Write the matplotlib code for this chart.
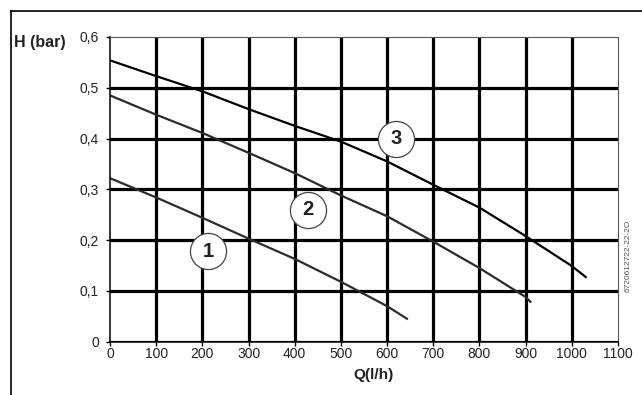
import numpy as np
import matplotlib.pyplot as plt
from matplotlib.lines import Line2D

plt.rcParams['font.family'] = ['Liberation Sans', 'DejaVu Sans']

# pump curves H(Q)
q1 = [0, 100, 200, 300, 400, 500, 600, 645]
h1 = [0.322, 0.284, 0.244, 0.203, 0.163, 0.118, 0.070, 0.044]
q2 = [0, 100, 200, 300, 400, 500, 600, 700, 800, 900, 912]
h2 = [0.485, 0.447, 0.411, 0.372, 0.332, 0.288, 0.247, 0.197, 0.145, 0.088, 0.077]
q3 = [0, 100, 200, 300, 400, 500, 600, 700, 800, 900, 1000, 1032]
h3 = [0.554, 0.523, 0.493, 0.458, 0.425, 0.394, 0.355, 0.309, 0.264, 0.208, 0.149, 0.126]

x_ticks = list(range(0, 1200, 100))
y_ticks = [0, 0.1, 0.2, 0.3, 0.4, 0.5, 0.6]
y_labels = ['0', '0,1', '0,2', '0,3', '0,4', '0,5', '0,6']
x_grid = list(range(100, 1100, 100))
y_grid = [0, 0.1, 0.2, 0.3, 0.4, 0.5]

# circled curve labels
lab_names = ['1', '2', '3']
lab_q = [213, 429, 620]
lab_h = [0.178, 0.260, 0.400]

W, H = 642, 395
fig = plt.figure(figsize=(W / 100, H / 100), dpi=100)
ax = fig.add_axes([110 / W, 1 - 341.7 / H, 508 / W, 304.7 / H])

for x in x_grid:
    ax.axvline(x, color='black', lw=2.3, zorder=1)
for y in y_grid:
    ax.axhline(y, color='black', lw=2.3, zorder=1)

ax.plot(q1, h1, color='#2b2b2b', lw=1.6, zorder=2, solid_capstyle='butt')
ax.plot(q2, h2, color='#2b2b2b', lw=1.6, zorder=2, solid_capstyle='butt')
ax.plot(q3, h3, color='black', lw=1.6, zorder=2, solid_capstyle='butt')

for name, q, h in zip(lab_names, lab_q, lab_h):
    ax.plot(q, h, 'o', ms=26, mfc='white', mec='#444444', mew=0.9, zorder=3)
    ax.text(q, h, name, ha='center', va='center', fontsize=14.5,
            fontweight='bold', color='#222222', zorder=4)

ax.set_xlim(0, 1100)
ax.set_ylim(0, 0.6)
ax.set_xticks(x_ticks)
ax.set_yticks(y_ticks)
ax.set_yticklabels(y_labels)
ax.tick_params(direction='out', length=3, width=1, labelsize=10,
               colors='black', labelcolor='#222222')
ax.tick_params(axis='x', pad=1)
ax.tick_params(axis='y', pad=5)

ax.spines['left'].set_linewidth(1.1)
ax.spines['bottom'].set_linewidth(1.1)
for s in ['top', 'right']:
    ax.spines[s].set_linewidth(0.8)
    ax.spines[s].set_color('#555555')

fig.text(14 / W, 1 - 43 / H, 'H (bar)', fontsize=11.5, fontweight='bold',
         color='#222222', ha='left', va='center')
fig.text(374 / W, 1 - 375 / H, 'Q(l/h)', fontsize=11, fontweight='bold',
         color='#222222', ha='center', va='center')
fig.text(628 / W, 1 - 256 / H, '6720612722-22-2O', fontsize=6, color='#555555',
         rotation=90, ha='center', va='center')

# outer frame (only left and top edges visible)
fig.add_artist(Line2D([11 / W, 11 / W], [0, 1 - 11 / H], color='black', lw=1.2,
                      transform=fig.transFigure))
fig.add_artist(Line2D([11 / W, 1], [1 - 11 / H, 1 - 11 / H], color='black', lw=1.2,
                      transform=fig.transFigure))

fig.savefig('out.png', dpi=100)
